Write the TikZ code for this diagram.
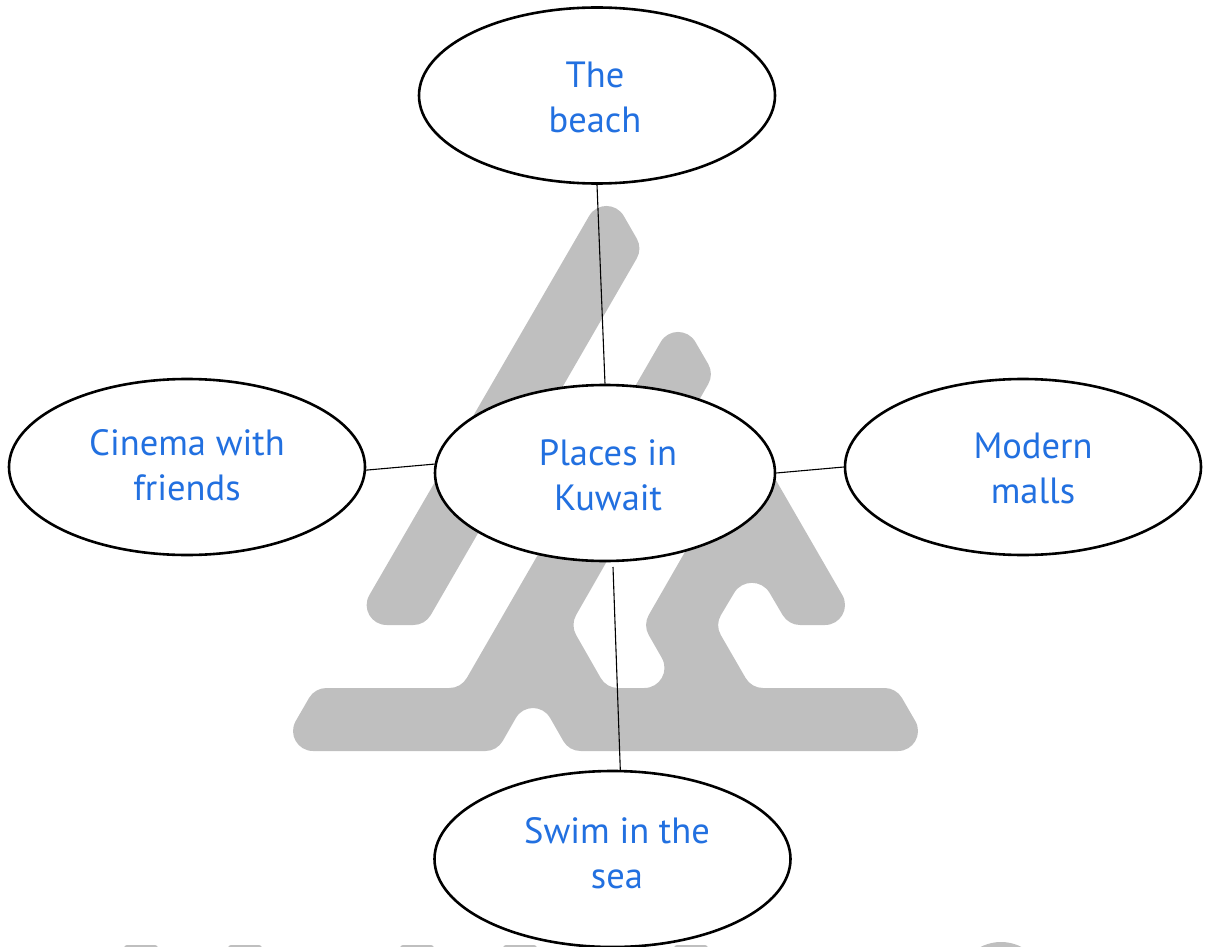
\documentclass[tikz,border=0pt]{standalone}
\usepackage{fontspec}
\setmainfont{PT Sans}
\usetikzlibrary{shapes.geometric,calc}
\definecolor{labelblue}{HTML}{2270E0}
\definecolor{logogray}{HTML}{BFBFBF}
\newcommand\widebend[3]{-- ($(#2)!34.64pt!(#1)$) .. controls ($(#2)!19.2pt!(#1)$) and ($(#2)!19.2pt!(#3)$) .. ($(#2)!34.64pt!(#3)$) }
\newcommand\tightbend[3]{-- ($(#2)!11.55pt!(#1)$) .. controls ($(#2)!4.4pt!(#1)$) and ($(#2)!4.4pt!(#3)$) .. ($(#2)!11.55pt!(#3)$) }
\tikzset{
  x=1pt,y=-1pt,
  bubble/.style={draw=black,line width=2.6pt,fill=white,ellipse,inner sep=0pt,minimum width=356pt,minimum height=176pt},
  hub/.style={bubble,minimum width=340pt},
  caption/.style={text=labelblue,align=center,font=\fontsize{36.5}{45}\selectfont,inner sep=0pt},
  link/.style={draw=black,line width=1.1pt},
  mark shape/.style={fill=logogray,draw=none}
}
\begin{document}
\begin{tikzpicture}
\useasboundingbox (0,0) rectangle (1205,947);
\begin{scope}
\clip (0,0) rectangle (1205,947);
% grey mark, first bar
\coordinate (a1) at (606.5,186);
\coordinate (a2) at (642.5,248.5);
\coordinate (a3) at (425,625);
\coordinate (a4) at (352,625);
\path[mark shape] ($(a4)!.5!(a1)$) \widebend{a4}{a1}{a2} \tightbend{a1}{a2}{a3} \tightbend{a2}{a3}{a4} \widebend{a3}{a4}{a1} -- cycle;
% grey mark, main body
\coordinate (b1) at (678,312);
\coordinate (b2) at (714,374);
\coordinate (b3) at (570.4,625);
\coordinate (b4) at (606.4,688);
\coordinate (b5) at (679,688);
\coordinate (b6) at (643,625);
\coordinate (b7) at (751,437);
\coordinate (b8) at (859.6,625);
\coordinate (b9) at (788.5,625);
\coordinate (b10) at (752,563);
\coordinate (b11) at (715,625);
\coordinate (b12) at (751.4,688);
\coordinate (b13) at (896.2,688);
\coordinate (b14) at (932.6,751);
\coordinate (b15) at (569,751);
\coordinate (b16) at (533,688);
\coordinate (b17) at (497,751);
\coordinate (b18) at (278.4,751);
\coordinate (b19) at (314.8,688);
\coordinate (b20) at (461,688);
\path[mark shape] ($(b20)!.5!(b1)$) \widebend{b20}{b1}{b2} \tightbend{b1}{b2}{b3} \tightbend{b2}{b3}{b4}
  \tightbend{b3}{b4}{b5} \widebend{b4}{b5}{b6} \tightbend{b5}{b6}{b7} -- (b7)
  \widebend{b7}{b8}{b9} \tightbend{b8}{b9}{b10} \widebend{b9}{b10}{b11}
  \tightbend{b10}{b11}{b12} \tightbend{b11}{b12}{b13} \tightbend{b12}{b13}{b14}
  \widebend{b13}{b14}{b15} \tightbend{b14}{b15}{b16} \widebend{b15}{b16}{b17}
  \tightbend{b16}{b17}{b18} \widebend{b17}{b18}{b19} \tightbend{b18}{b19}{b20}
  \tightbend{b19}{b20}{b1} -- cycle;
% next row of the mark, cut by the page edge
\path[mark shape,rounded corners=3pt] (124,945) rectangle (158,965);
\path[mark shape,rounded corners=3pt] (228,945) rectangle (262,965);
\path[mark shape,rounded corners=3pt] (400,945) rectangle (434,965);
\path[mark shape,rounded corners=3pt] (503,945) rectangle (537,965);
\path[mark shape,rounded corners=3pt] (674,945) rectangle (708,965);
\path[mark shape] (1001,986.5) circle[radius=44.5];
\end{scope}
% bubbles
\node[bubble] (beach) at (597,95.5) {};
\node[bubble] (cinema) at (187,467) {};
\node[bubble] (malls) at (1023,467) {};
\node[bubble] (swim) at (612.5,859) {};
\node[hub] (hub) at (605,473) {};
\coordinate (gap) at (613,567);
% connectors
\draw[link] (beach.south) -- (hub.north);
\draw[link] (cinema.-1) -- (hub.177.3);
\draw[link] (hub.east) -- (malls.west);
\draw[link] (gap) -- (swim.85);
% captions
\node[caption] (beachtext) at (595,97) {The\\beach};
\node[caption] (cinematext) at (187,465) {Cinema with\\friends};
\node[caption] (mallstext) at (1033,468.5) {Modern\\malls};
\node[caption] (hubtext) at (608,475) {Places in\\Kuwait};
\node[caption] (swimtext) at (617,853) {Swim in the\\sea};
\end{tikzpicture}
\end{document}
